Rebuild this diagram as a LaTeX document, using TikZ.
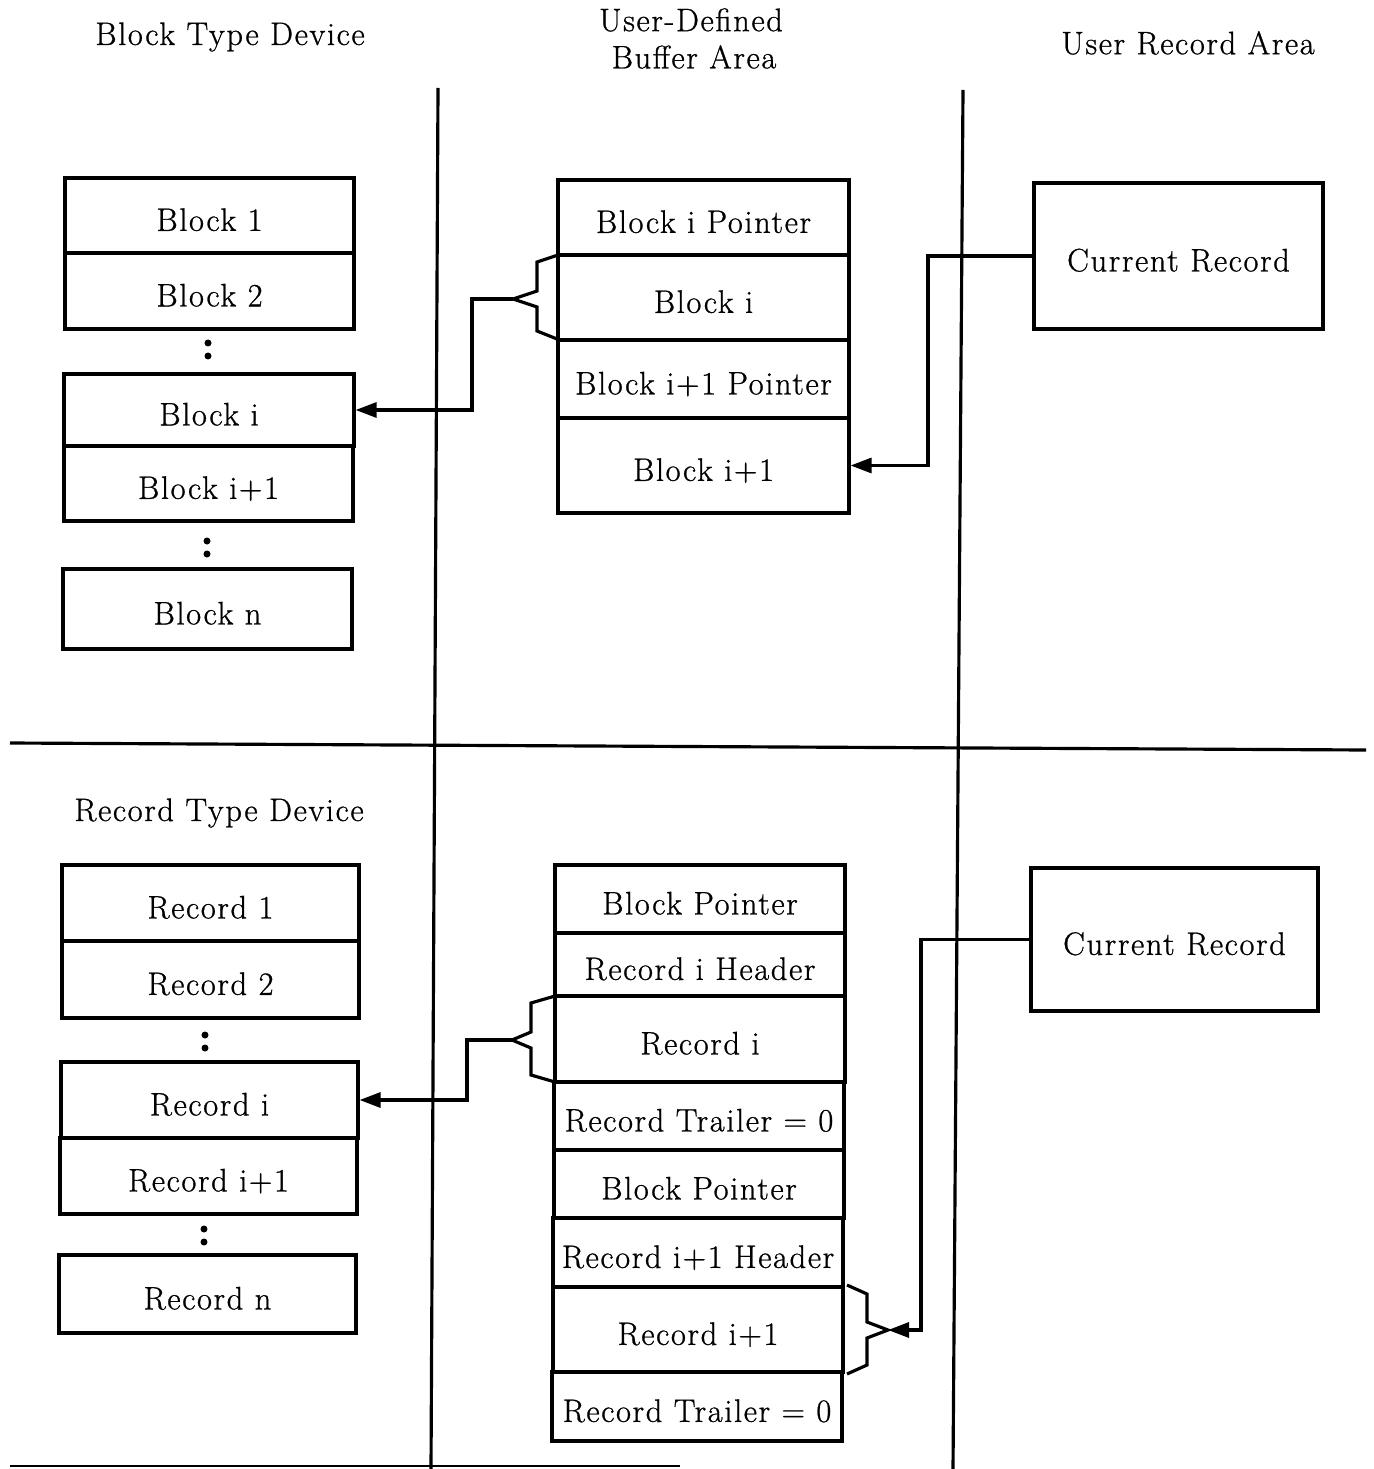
\documentclass[tikz,border=0pt]{standalone}
\usepackage{fontspec}
\newfontfamily\diafont{Latin Modern Roman}[LetterSpace=5,FakeBold=0.8]
\usetikzlibrary{arrows.meta}
\newcommand{\cellbox}[6]{\node[cell, minimum width={(#3-#2)*0.02cm}, minimum height={(#5-#4)*0.02cm}] (#1) at ({(#2+#3)/2},{(#4+#5)/2}) {#6};}
\begin{document}
\begin{tikzpicture}[x=0.02cm,y=-0.02cm,
  ln/.style={line width=1.8pt},
  cell/.style={draw, line width=1.8pt, inner sep=0pt, text height=22pt, text depth=4.5pt,
    font={\fontsize{18.5}{22}\diafont}},
  title/.style={inner sep=0pt, font={\fontsize{18.5}{22}\diafont}},
  conn/.style={line width=1.8pt, line join=miter},
  arr/.style={conn, -{Triangle[length=0.42cm,width=0.3cm]}},
  dot/.style={fill=black}
]
\useasboundingbox (0,0) rectangle (1373,1469);

% titles
\node[title] (t1) at (230,37) {Block Type Device};
\node[title] (t2) at (691,20) {User-Defined};
\node[title] (t3) at (694,57) {Buffer Area};
\node[title] (t4) at (1188,43) {User Record Area};
\node[title] (t5) at (219,813) {Record Type Device};

% dividers
\draw[ln] (438,88) -- (431,1469);
\draw[ln] (963,90) -- (953,1469);
\draw[ln] (10,743) -- (1366,750);
\draw[line width=1pt] (10,1466) -- (680,1466);

% top left device
\cellbox{dB1}{65}{354}{178}{253}{Block 1}
\cellbox{dB2}{65}{354}{253}{329}{Block 2}
\cellbox{dBi}{64}{354}{374}{446}{Block i}
\cellbox{dBi1}{64}{353}{446}{521}{Block i+1}
\cellbox{dBn}{63}{352}{569}{649}{Block n}
\fill[dot] (208,343) circle[radius=0.07cm] (208,356) circle[radius=0.07cm];
\fill[dot] (207,541) circle[radius=0.07cm] (207,554) circle[radius=0.07cm];

% top buffer
\cellbox{bP}{558}{849}{180}{255}{Block i Pointer}
\cellbox{bBi}{558}{849}{255}{340}{Block i}
\cellbox{bP1}{558}{849}{340}{418}{Block i+1 Pointer}
\cellbox{bBi1}{558}{849}{418}{513}{Block i+1}

% top record area
\cellbox{crA}{1034}{1323}{183}{329}{Current Record}

% brace 1 and connectors
\coordinate (b1) at (513,299);
\draw[conn] (558,255) -- (537,262) -- (537,291) -- (b1) -- (537,307) -- (537,331) -- (557,339);
\draw[arr] (b1) -- (472,299) |- (dBi.east);
\draw[arr] (crA.west) -- (928,256) |- (bBi1.east);

% bottom left device
\cellbox{dR1}{62}{359}{865}{941}{Record 1}
\cellbox{dR2}{62}{359}{941}{1018}{Record 2}
\cellbox{dRi}{61}{358}{1062}{1138}{Record i}
\cellbox{dRi1}{60}{357}{1138}{1214}{Record i+1}
\cellbox{dRn}{59}{356}{1255}{1333}{Record n}
\fill[dot] (205,1035) circle[radius=0.07cm] (205,1048) circle[radius=0.07cm];
\fill[dot] (204,1229) circle[radius=0.07cm] (204,1242) circle[radius=0.07cm];

% bottom buffer
\cellbox{rBP}{555}{845}{865}{933}{Block Pointer}
\cellbox{rH}{555}{845}{933}{996}{Record i Header}
\cellbox{rRi}{555}{845}{996}{1082}{Record i}
\cellbox{rT}{554}{844}{1082}{1150}{Record Trailer = 0}
\cellbox{rBP1}{554}{844}{1150}{1218}{Block Pointer}
\cellbox{rH1}{553}{843}{1218}{1287}{Record i+1 Header}
\cellbox{rRi1}{553}{843}{1287}{1372}{Record i+1}
\cellbox{rT1}{552}{842}{1372}{1441}{Record Trailer = 0}

% bottom record area
\cellbox{crB}{1031}{1318}{868}{1011}{Current Record}

% brace 3 and connector
\coordinate (b3) at (512,1040);
\draw[conn] (555,996) -- (531,1003) -- (531,1032) -- (b3) -- (531,1048) -- (531,1075) -- (555,1082);
\draw[arr] (b3) -- (467,1040) |- (dRi.east);

% brace 4 and connector
\coordinate (b4) at (888,1330);
\draw[conn] (847,1285) -- (867,1294) -- (867,1322) -- (b4) -- (867,1338) -- (867,1365) -- (847,1374);
\draw[arr] (crB.west) -- (921,939.5) |- (b4);

\end{tikzpicture}
\end{document}
